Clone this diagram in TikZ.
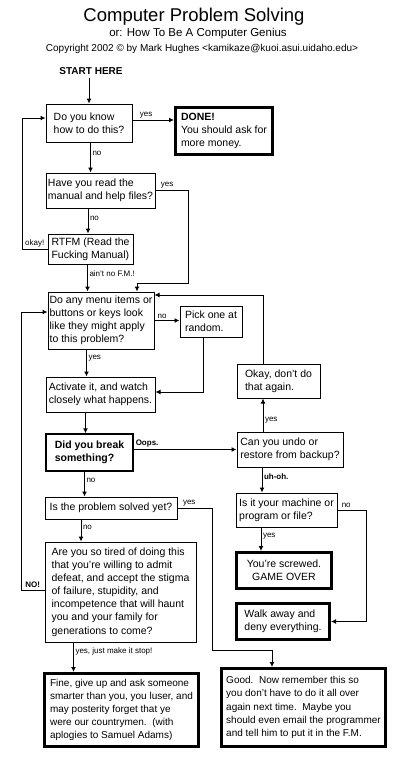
\documentclass[tikz,border=0pt]{standalone}
\usepackage{fontspec}
\setmainfont{Liberation Sans}
\usetikzlibrary{arrows.meta}
\newcommand{\boxfont}{\fontsize{10.5}{13.1}\selectfont}
\newcommand{\smallboxfont}{\fontsize{10}{13.1}\selectfont}
\newcommand{\tagfont}{\fontsize{8}{9}\selectfont}
\tikzstyle{process} = [rectangle, draw=black, line width=1pt, align=left, inner sep=1pt, font=\boxfont]
\tikzstyle{finish} = [process, line width=3pt]
\tikzstyle{tag} = [font=\tagfont, inner sep=1.5pt]
\tikzstyle{shout} = [font=\tagfont\bfseries, inner sep=1.5pt]
\tikzstyle{arrow} = [line width=1pt, -{Latex[length=5pt,width=5pt]}]

\begin{document}
\begin{tikzpicture}[x=1pt, y=-1pt]
\useasboundingbox (0,0) rectangle (400,768);
%
% Heading
%
\node (title) [anchor=base, font=\fontsize{18.5}{20}\selectfont] at (194,21.5) {Computer Problem Solving};
\node (subtitle) [anchor=base, font=\fontsize{11.5}{13}\selectfont] at (198,36.5) {or: How To Be A Computer Genius};
\node (copyright) [anchor=base, font=\fontsize{10}{12}\selectfont] at (202,52) {Copyright 2002 \textcopyright{} by Mark Hughes <kamikaze@kuoi.asui.uidaho.edu>};
\node (start) [anchor=base, font=\fontsize{10}{12}\selectfont\bfseries] at (91,74.5) {START HERE};
%
% Define nodes
%
\node (know) [process, minimum width=86, minimum height=38] at (89,123) {Do you know\\how to do this?};
\node (done) [finish, minimum width=97, minimum height=47] at (224,131) {\textbf{DONE!}\\You should ask for\\more money.};
\node (read) [process, minimum width=109, minimum height=35] at (100.5,190.5) {Have you read the\\manual and help files?};
\node (rtfm) [process, minimum width=85, minimum height=30] at (90.5,249) {RTFM (Read the\\Fucking Manual)};
\node (menu) [process, minimum width=106, minimum height=57] at (101,320.5) {Do any menu items or\\buttons or keys look\\like they might apply\\to this problem?};
\node (pick) [process, minimum width=62, minimum height=31] at (211,321.5) {Pick one at\\random.};
\node (activate) [process, minimum width=109, minimum height=35] at (100.5,394.5) {Activate it, and watch\\closely what happens.};
\node (again) [process, minimum width=83, minimum height=34] at (278.5,381) {Okay, don't do\\that again.};
\node (undo) [process, minimum width=106, minimum height=35] at (290,449.5) {Can you undo or\\restore from backup?};
\node (broke) [process, line width=1.5pt, minimum width=87, minimum height=37, font=\boxfont\bfseries] at (89.5,452.5) {Did you break\\something?};
\node (solved) [process, minimum width=132, minimum height=22] at (111,508) {Is the problem solved yet?};
\node (tired) [process, minimum width=151, minimum height=100] at (120.5,592) {Are you so tired of doing this\\that you're willing to admit\\defeat, and accept the stigma\\of failure, stupidity, and\\incompetence that will haunt\\you and your family for\\generations to come?};
\node (machine) [process, minimum width=101, minimum height=34] at (286.5,510) {Is it your machine or\\program or file?};
\node (screwed) [finish, align=center, minimum width=95, minimum height=36] at (284,570.5) {You're screwed.\\GAME OVER};
\node (walk) [finish, minimum width=93, minimum height=36] at (283,621.5) {Walk away and\\deny everything.};
\node (fine) [finish, font=\smallboxfont, minimum width=154, minimum height=73] at (121.5,710) {Fine, give up and ask someone\\smarter than you, you luser, and\\may posterity forget that ye\\were our countrymen.\ \ (with\\aplogies to Samuel Adams)};
\node (good) [finish, font=\smallboxfont, minimum width=164, minimum height=78] at (303.5,707.5) {Good.\ \ Now remember this so\\you don't have to do it all over\\again next time.\ \ Maybe you\\should even email the programmer\\and tell him to put it in the F.M.};
%
% Turning points
%
\coordinate (knowin) at (know.north);
\coordinate (knowyes) at ([yshift=3pt]know.east);
\coordinate (readin) at ([xshift=-10pt]read.north);
\coordinate (rtfmin) at ([xshift=-2.5pt]rtfm.north);
\coordinate (readturn) at (188,283);
\coordinate (readdrop) at (137,283);
\coordinate (okayturn) at (22,249);
\coordinate (okayend) at ([yshift=5pt]know.west);
\coordinate (fmin) at ([xshift=-13.5pt]menu.north);
\coordinate (menuyes) at ([xshift=-14pt]activate.north);
\coordinate (pickdown) at ([xshift=-8pt]pick.south);
\coordinate (pickjoin) at ([yshift=2.5pt]activate.east);
\coordinate (brokein) at ([xshift=-4pt]broke.north);
\coordinate (solvedin) at ([xshift=-26.5pt]solved.north);
\coordinate (tiredin) at ([xshift=-39.5pt]tired.north);
\coordinate (finein) at ([xshift=-48pt]fine.north);
\coordinate (againin) at ([xshift=-15.5pt]again.south);
\coordinate (againtop) at ([xshift=-15.5pt]again.north);
\coordinate (menuback) at ([yshift=25.5pt]menu.east);
\coordinate (machinein) at ([xshift=-24.5pt]machine.north);
\coordinate (screwedin) at ([xshift=-23pt]screwed.north);
\coordinate (goodbend) at (212,650);
\coordinate (goodin) at ([xshift=-31.5pt]good.north);
\coordinate (noout) at ([yshift=2pt]tired.west);
\coordinate (noturn) at (21,590);
\coordinate (noin) at ([yshift=8.5pt]menu.west);
%
% Connect nodes
%
\draw [arrow] (start.south -| knowin) -- (knowin);
\draw [arrow] (knowyes) -- node[tag, above, pos=0.33] {yes} (knowyes -| done.west);
\draw [arrow] (readin |- know.south) -- node[tag, right, pos=0.35] {no} (readin);
\draw [arrow] (rtfmin |- read.south) -- node[tag, right, pos=0.4] {no} (rtfmin);
\draw [arrow] (read.east) -| node[tag, above, pos=0.18] {yes} (readturn) -- (readdrop) -- (readdrop |- menu.north);
\draw [arrow] (rtfm.west) -- node[tag, above] {okay!} (okayturn) |- (okayend);
\draw [arrow] (fmin |- rtfm.south) -- node[tag, right, pos=0.32] {ain't no F.M.!} (fmin);
\draw [arrow] (menu.east) -- node[tag, above, pos=0.3] {no} (menu.east -| pick.west);
\draw [arrow] (menuyes |- menu.south) -- node[tag, right, pos=0.33] {yes} (menuyes);
\draw [arrow] (pickdown) |- (pickjoin);
\draw [arrow] (brokein |- activate.south) -- (brokein);
\draw [arrow] (undo.west -| broke.east) -- node[shout, above right, pos=0] {Oops.} (undo.west);
\draw [arrow] (againin |- undo.north) -- node[tag, right, pos=0.35] {yes} (againin);
\draw [arrow] (againtop) |- (menuback);
\draw [arrow] (machinein |- undo.south) -- node[shout, right, pos=0.35] {uh-oh.} (machinein);
\draw [arrow] (screwedin |- machine.south) -- node[tag, right, pos=0.37] {yes} (screwedin);
\draw [arrow] (machine.east) -- node[tag, above, pos=0.3] {no} ++(29,0) |- (walk.east);
\draw [arrow] (solvedin |- broke.south) -- node[tag, right, pos=0.35] {no} (solvedin);
\draw [arrow] (tiredin |- solved.south) -- node[tag, right, pos=0.35] {no} (tiredin);
\draw [arrow] (solved.east) -| node[tag, above, pos=0.17] {yes} (goodbend) -| (goodin);
\draw [arrow] (finein |- tired.south) -- node[tag, right, pos=0.3] {yes, just make it stop!} (finein);
\draw [arrow] (noout) -- node[shout, above] {NO!} (noturn) |- (noin);
\end{tikzpicture}
\end{document}
